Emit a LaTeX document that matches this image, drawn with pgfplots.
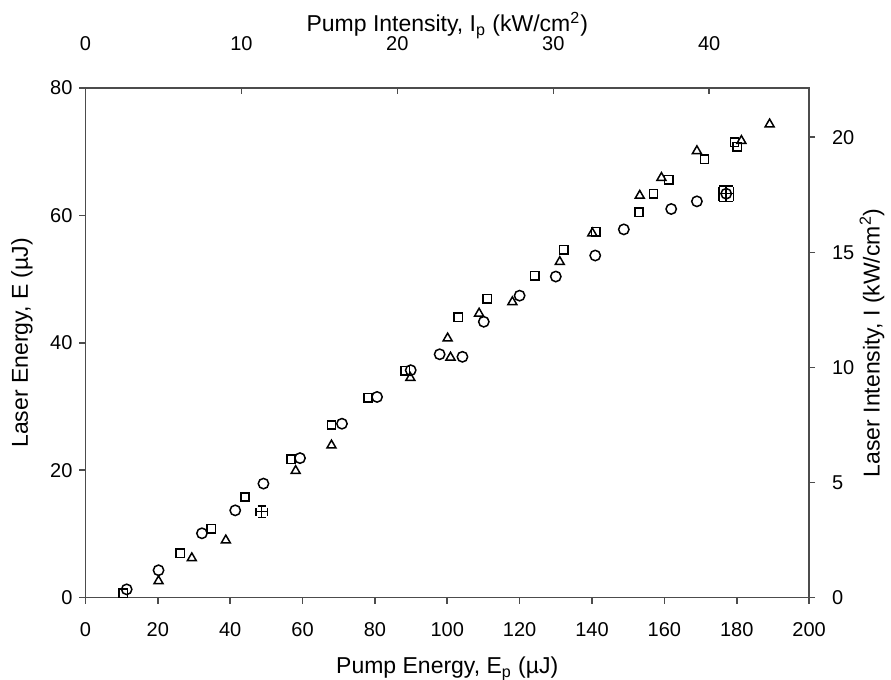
\documentclass[border=0pt]{standalone}
\usepackage{fontspec}
\setmainfont{Liberation Sans}
\usepackage{pgfplots}
\pgfplotsset{compat=1.18}
\begin{document}
\begin{tikzpicture}
\pgfplotsset{
  every axis/.append style={
    scale only axis, width=362pt, height=255pt,
    axis line style={black!70, line width=0.8pt},
    tick style={black!70, line width=0.8pt},
    major tick length=3pt,
    tick label style={font=\fontsize{10}{12}\selectfont},
    label style={font=\fontsize{11.5}{13}\selectfont},
    /pgf/number format/assume math mode=true,
  },
  mk/.style={only marks, black, line width=0.75pt, mark options={solid, fill=none}},
}
\begin{axis}[name=ax,
  xmin=0, xmax=200, ymin=0, ymax=80,
  xtick={0,20,...,200}, ytick={0,20,...,80},
  xtick pos=bottom, ytick pos=left, tick align=outside,
  xticklabel style={yshift=-6pt},
  xlabel={Pump Energy, E$_{\mathrm{p}}$ (\textmu J)},
  ylabel={Laser Energy, E (\textmu J)},
  xlabel style={at={(axis description cs:0.5,-0.14)}, anchor=center},
  ylabel style={at={(axis description cs:-0.0877,0.5)}, anchor=center, rotate=0},
  clip=false,
]
% circles
\addplot[mk, mark=o, mark size=2.6pt] coordinates {
(11.4,1.3)(20.2,4.3)(32.2,10.1)(41.4,13.7)(49.2,17.9)(59.3,21.9)(70.9,27.3)(80.6,31.5)(89.9,35.7)(97.9,38.2)(104.2,37.8)(110.1,43.3)(120.0,47.4)(130.0,50.4)(140.9,53.7)(148.8,57.8)(161.9,61.0)(169.0,62.2)
};
% squares
\addplot[mk, mark=square, mark size=2.1pt] coordinates {
(10.5,0.7)(26.2,7.0)(34.8,10.8)(44.1,15.8)(56.8,21.7)(68.0,27.1)(78.1,31.4)(88.4,35.6)(103.0,44.0)(111.0,46.9)(124.2,50.5)(132.2,54.6)(141.0,57.4)(153.0,60.5)(157.0,63.4)(161.2,65.6)(171.1,68.8)(179.4,71.5)(180.1,70.8)
};
% triangles
\addplot[mk, mark=triangle, mark size=2.6pt] coordinates {
(20.2,2.6)(29.4,6.2)(38.8,9.0)(58.1,19.9)(68.0,23.9)(89.8,34.5)(100.1,40.7)(100.9,37.7)(108.8,44.6)(118.0,46.4)(131.1,52.7)(140.1,57.2)(153.2,63.1)(159.2,65.9)(169.0,70.1)(181.3,71.7)(189.1,74.3)
};
% points with error bars
\addplot[mk, mark=+, mark size=2pt,
  error bars/.cd, x dir=both, x explicit, y dir=both, y explicit,
  error bar style={line width=0.75pt, black}, error mark options={rotate=90, mark size=2pt, line width=0.75pt}]
  coordinates {(48.7,13.5) +- (1.6,0.9)};
\addplot[mk, mark=o, mark size=2.6pt,
  error bars/.cd, x dir=both, x explicit, y dir=both, y explicit,
  error bar style={line width=0.75pt, black}, error mark options={rotate=90, mark size=3.4pt, line width=0.75pt}]
  coordinates {(177.1,63.4) +- (2.0,1.2)};
\end{axis}
% top axis
\begin{axis}[
  xmin=0, xmax=46.4, ymin=0, ymax=80,
  hide y axis, axis x line*=top, tick align=inside,
  xtick={0,10,...,40},
  xticklabel style={yshift=15pt},
  xlabel={Pump Intensity, I$_{\mathrm{p}}$ (kW/cm$^{\mathrm{2}}$)},
  xlabel style={at={(axis description cs:0.5,1.123)}, anchor=center},
]
\end{axis}
% right axis
\begin{axis}[
  xmin=0, xmax=200, ymin=0, ymax=22.14,
  hide x axis, axis y line*=right, tick align=outside,
  ytick={0,5,...,20},
  yticklabel style={xshift=5pt},
  ylabel={Laser Intensity, I (kW/cm$^{\mathrm{2}}$)},
  ylabel style={at={(axis description cs:1.087,0.5)}, anchor=center, rotate=0},
]
\end{axis}
\pgfresetboundingbox
\path[use as bounding box] ([xshift=-42.75pt,yshift=-41pt]ax.south west) rectangle ([xshift=41pt,yshift=44pt]ax.north east);
\end{tikzpicture}
\end{document}
